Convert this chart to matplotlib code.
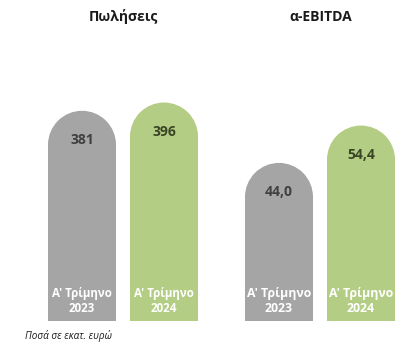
import matplotlib.pyplot as plt
from matplotlib.patches import Ellipse

W, H = 406, 352

titles = ['Πωλήσεις', 'α-EBITDA']
periods = ["Α' Τρίμηνο\n2023", "Α' Τρίμηνο\n2024"]
sales = [381, 396]
sales_labels = ['381', '396']
ebitda = [44.0, 54.4]
ebitda_labels = ['44,0', '54,4']

colors = ['#A5A5A5', '#B3CD84']
value_colors = ['#404040', '#3A4526']

plt.rcParams['font.family'] = ['Open Sans', 'DejaVu Sans']

fig = plt.figure(figsize=(W / 100, H / 100), dpi=100)

# axes in pixels: left, bottom, width, height
ax_h = 240
panels = [
    (38, sales, sales_labels, 435.0, 8.3),
    (235, ebitda, ebitda_labels, 66.8, 8.8),
]

for i, (left, vals, labs, ytop, cat_size) in enumerate(panels):
    ax = fig.add_axes([left / W, 31 / H, 170 / W, ax_h / H])
    span = 170 / 82
    ax.set_xlim(0.5 - span / 2, 0.5 + span / 2)
    ax.set_ylim(0, ytop)
    ax.axis('off')

    bw = 68 / 82
    r_y = 34 / (ax_h / ytop)  # cap radius in data units
    xs = range(len(vals))
    ax.bar(xs, [v - r_y for v in vals], width=bw, color=colors, linewidth=0)
    for x, v, c in zip(xs, vals, colors):
        ax.add_patch(Ellipse((x, v - r_y), bw, 2 * r_y, color=c, linewidth=0))

    for x, v, lab, vc in zip(xs, vals, labs, value_colors):
        ax.annotate(lab, (x, v), xytext=(0, -29), textcoords='offset pixels',
                    ha='center', va='center', fontsize=10, fontweight='bold',
                    color=vc)

    for x, p in zip(xs, periods):
        ax.text(x, 20 / ax_h, p, transform=ax.get_xaxis_transform(),
                ha='center', va='center', fontsize=cat_size, fontweight='bold',
                color='white', linespacing=1.3)

fig.text(123 / W, 1 - 17 / H, titles[0], ha='center', va='center',
         fontsize=10, fontweight='bold', color='#1a1a1a')
fig.text(321 / W, 1 - 17 / H, titles[1], ha='center', va='center',
         fontsize=10, fontweight='bold', color='#1a1a1a')
fig.text(25 / W, 1 - 336 / H, 'Ποσά σε εκατ. ευρώ', ha='left', va='center',
         fontsize=7.2, fontstyle='italic', color='#1a1a1a')

fig.savefig('out.png', dpi=100)
